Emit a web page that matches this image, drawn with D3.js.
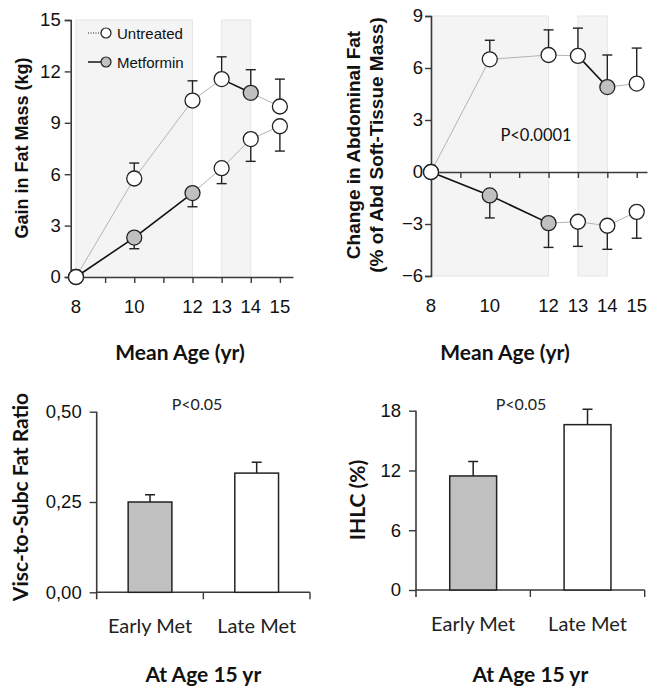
<!DOCTYPE html>
<html>
<head>
<meta charset="utf-8">
<script src="https://cdn.jsdelivr.net/npm/d3@7"></script>
<style>
  body { margin: 0; background: #fff; }
  svg { display: block; }
  .tick text { font-family: "Liberation Sans", Arial, sans-serif; }
</style>
</head>
<body>
<div id="chart"></div>
<script>
// Ages at which the cohorts were measured
var ages = [8, 10, 12, 13, 14, 15];
var tickAges = [8, 10, 12, 13, 14, 15];

// 1 = on metformin at that visit
var lateMet = [0, 0, 0, 0, 1, 0];
var earlyMet = [0, 1, 1, 0, 0, 0];

// Gain in fat mass (kg)
var lateFat = [0, 5.75, 10.3, 11.55, 10.75, 9.95];
var lateFatErr = [0, 0.9, 1.15, 1.3, 1.35, 1.6];
var earlyFat = [0, 2.3, 4.9, 6.35, 8.05, 8.8];
var earlyFatErr = [0, 0.65, 0.8, 0.9, 1.3, 1.45];

// Change in abdominal fat (% of abd soft-tissue mass)
var lateAbd = [0, 6.5, 6.75, 6.7, 4.9, 5.1];
var lateAbdErr = [0, 1.1, 1.45, 1.6, 1.85, 2.05];
var earlyAbd = [0, -1.35, -2.95, -2.87, -3.1, -2.3];
var earlyAbdErr = [0, 1.3, 1.4, 1.42, 1.36, 1.52];

// Bar panels at age 15
var groups = ["Early Met", "Late Met"];
var viscRatio = [0.25, 0.33];
var viscErr = [0.02, 0.03];
var ihlc = [11.45, 16.6];
var ihlcErr = [1.45, 1.55];

var ARIAL = '"Liberation Sans", Arial, sans-serif';
var CALIBRI = 'Lato, "Open Sans", sans-serif';
var axisColor = "#3a3a3a";
var greyFill = "#c0c0c0";
var tickFont = 18.5;

var svg = d3.select("#chart").append("svg")
  .attr("width", 648)
  .attr("height", 688);

function styleAxis(g) {
  g.select(".domain").attr("stroke", axisColor).attr("stroke-width", 1.6);
  g.selectAll(".tick line").attr("stroke", axisColor).attr("stroke-width", 1.4);
  g.selectAll(".tick text").attr("fill", "#111").attr("font-size", tickFont);
}

// draws one of the two line panels
function linePanel(opt) {
  var x = d3.scaleLinear().domain(opt.xDomain).range(opt.xRange);
  var y = d3.scaleLinear().domain(opt.yDomain).range(opt.yRange);
  var g = svg.append("g");

  // shaded treatment windows
  [[8, 12], [13, 14]].forEach(function(w) {
    g.append("rect")
      .attr("x", x(w[0]))
      .attr("y", y(opt.yDomain[1]))
      .attr("width", x(w[1]) - x(w[0]))
      .attr("height", y(opt.yDomain[0]) - y(opt.yDomain[1]))
      .attr("fill", "#f4f4f4")
      .attr("stroke", "#e6e6e6")
      .attr("stroke-width", 1);
  });

  // axes
  var ya = g.append("g")
    .attr("transform", "translate(" + opt.xRange[0] + ",0)")
    .call(d3.axisLeft(y).tickValues(opt.yTicks).tickSize(6).tickPadding(opt.yPad).tickFormat(d3.format("d")));
  styleAxis(ya);

  var xa = g.append("g")
    .attr("transform", "translate(0," + y(0) + ")")
    .call(d3.axisBottom(x).tickValues(d3.range(8, 16)).tickSize(6).tickSizeOuter(0).tickFormat(""));
  styleAxis(xa);

  g.selectAll(".agelab")
    .data(tickAges)
    .enter().append("text")
    .attr("x", function(d) { return x(d); })
    .attr("y", opt.labelY)
    .attr("text-anchor", "middle")
    .attr("font-family", ARIAL)
    .attr("font-size", tickFont)
    .attr("fill", "#111")
    .text(function(d) { return d; });

  // series
  opt.series.forEach(function(s) {
    for (var i = 1; i < ages.length; i++) {
      var met = s.met[i] == 1;
      g.append("line")
        .attr("x1", x(ages[i - 1])).attr("y1", y(s.vals[i - 1]))
        .attr("x2", x(ages[i])).attr("y2", y(s.vals[i]))
        .attr("stroke", met ? "#111" : "#b4b4b4")
        .attr("stroke-width", met ? 1.6 : 1);
    }
    for (var i = 1; i < ages.length; i++) {
      var top = s.vals[i] + s.dir * s.err[i];
      g.append("line")
        .attr("x1", x(ages[i])).attr("x2", x(ages[i]))
        .attr("y1", y(s.vals[i])).attr("y2", y(top))
        .attr("stroke", "#222").attr("stroke-width", 1.4);
      g.append("line")
        .attr("x1", x(ages[i]) - 5).attr("x2", x(ages[i]) + 5)
        .attr("y1", y(top)).attr("y2", y(top))
        .attr("stroke", "#222").attr("stroke-width", 1.4);
    }
  });
  opt.series.forEach(function(s) {
    g.selectAll(null)
      .data(ages)
      .enter().append("circle")
      .attr("cx", function(d) { return x(d); })
      .attr("cy", function(d, i) { return y(s.vals[i]); })
      .attr("r", 7.5)
      .attr("fill", function(d, i) { return s.met[i] == 1 ? greyFill : "#fff"; })
      .attr("stroke", "#222")
      .attr("stroke-width", 1.3);
  });

  // y title
  opt.yTitle.forEach(function(t, k) {
    g.append("text")
      .attr("transform", "translate(" + opt.titleX[k] + "," + opt.titleY + ") rotate(-90)")
      .attr("text-anchor", "middle")
      .attr("font-family", ARIAL)
      .attr("font-weight", "bold")
      .attr("font-size", opt.titleSize)
      .attr("fill", "#111")
      .text(t);
  });

  g.append("text")
    .attr("x", opt.xTitleX)
    .attr("y", 360)
    .attr("text-anchor", "middle")
    .attr("font-family", CALIBRI)
    .attr("font-weight", "bold")
    .attr("font-size", 21)
    .attr("fill", "#111")
    .text("Mean Age (yr)");
  return g;
}

var tl = linePanel({
  xDomain: [7.818, 15.45], xRange: [70.7, 293],
  yDomain: [0, 15], yRange: [277, 20],
  yTicks: [0, 3, 6, 9, 12, 15], yPad: 4,
  labelY: 313,
  series: [
    {vals: lateFat, err: lateFatErr, met: lateMet, dir: 1},
    {vals: earlyFat, err: earlyFatErr, met: earlyMet, dir: -1}
  ],
  yTitle: ["Gain in Fat Mass (kg)"], titleX: [28], titleY: 148, titleSize: 18,
  xTitleX: 180
});

// legend
var legend = [["Untreated", "#fff", "1,1.5"], ["Metformin", greyFill, null]];
legend.forEach(function(l, k) {
  var ly = 33 + k * 29;
  tl.append("line")
    .attr("x1", 88).attr("x2", 102).attr("y1", ly).attr("y2", ly)
    .attr("stroke", "#222").attr("stroke-width", l[2] ? 1 : 1.6)
    .attr("stroke-dasharray", l[2]);
  tl.append("circle")
    .attr("cx", 106).attr("cy", ly).attr("r", 5)
    .attr("fill", l[1]).attr("stroke", "#222").attr("stroke-width", 1.2);
  tl.append("text")
    .attr("x", 117).attr("y", ly + 5.5)
    .attr("font-family", ARIAL)
    .attr("font-size", 15)
    .attr("fill", "#111")
    .text(l[0]);
});

var tr = linePanel({
  xDomain: [8, 15.35], xRange: [431, 647],
  yDomain: [-6, 9], yRange: [276, 16],
  yTicks: [-6, -3, 0, 3, 6, 9], yPad: 2,
  labelY: 312,
  series: [
    {vals: lateAbd, err: lateAbdErr, met: lateMet, dir: 1},
    {vals: earlyAbd, err: earlyAbdErr, met: earlyMet, dir: -1}
  ],
  yTitle: ["Change in Abdominal Fat", "(% of Abd Soft-Tissue Mass)"], titleX: [360, 383], titleY: 145, titleSize: 19,
  xTitleX: 505
});
tr.append("text")
  .attr("x", 536).attr("y", 141)
  .attr("text-anchor", "middle")
  .attr("font-family", CALIBRI)
  .attr("font-size", 16.5)
  .attr("fill", "#111")
  .text("P<0.0001");

// bar panels
function barPanel(opt) {
  var x = d3.scaleBand().domain(groups).range(opt.xRange).paddingInner(0.59).paddingOuter(0.295);
  var xb = d3.scaleBand().domain(groups).range(opt.xRange);
  var y = d3.scaleLinear().domain(opt.yDomain).range(opt.yRange);
  var g = svg.append("g");

  var ya = g.append("g")
    .attr("transform", "translate(" + opt.xRange[0] + ",0)")
    .call(d3.axisLeft(y).tickValues(opt.yTicks).tickSize(7).tickPadding(8).tickFormat(opt.fmt));
  styleAxis(ya);
  ya.select(".domain").attr("d", "M0," + y.range()[1] + "V" + (y.range()[0] + 7));

  var xa = g.append("g")
    .attr("transform", "translate(0," + y(0) + ")");
  xa.append("line")
    .attr("x1", opt.xRange[0]).attr("x2", opt.xRange[1])
    .attr("stroke", axisColor).attr("stroke-width", 1.6);
  xa.selectAll(null)
    .data(groups)
    .enter().append("line")
    .attr("x1", function(d) { return xb(d) + xb.bandwidth(); })
    .attr("x2", function(d) { return xb(d) + xb.bandwidth(); })
    .attr("y1", 0).attr("y2", 7)
    .attr("stroke", axisColor).attr("stroke-width", 1.4);

  g.selectAll(null)
    .data(groups)
    .enter().append("text")
    .attr("x", function(d) { return xb(d) + xb.bandwidth() / 2; })
    .attr("y", y(0) + 41)
    .attr("text-anchor", "middle")
    .attr("font-family", CALIBRI)
    .attr("font-size", 20)
    .attr("fill", "#222")
    .text(function(d) { return d; });

  // error bars then bars
  g.selectAll(null)
    .data(groups)
    .enter().append("path")
    .attr("d", function(d, i) {
      var cx = x(d) + x.bandwidth() / 2;
      var top = y(opt.vals[i] + opt.err[i]);
      return "M" + cx + "," + y(opt.vals[i]) + "V" + top + "M" + (cx - 5) + "," + top + "H" + (cx + 5);
    })
    .attr("stroke", "#222").attr("stroke-width", 1.5).attr("fill", "none");

  g.selectAll(null)
    .data(groups)
    .enter().append("rect")
    .attr("x", function(d) { return x(d); })
    .attr("y", function(d, i) { return y(opt.vals[i]); })
    .attr("width", x.bandwidth())
    .attr("height", function(d, i) { return y(0) - y(opt.vals[i]); })
    .attr("fill", function(d, i) { return i == 0 ? greyFill : "#fff"; })
    .attr("stroke", "#222")
    .attr("stroke-width", 1.5);

  g.append("text")
    .attr("x", opt.pX).attr("y", 410)
    .attr("text-anchor", "middle")
    .attr("font-family", CALIBRI)
    .attr("font-size", 16)
    .attr("fill", "#222")
    .text("P<0.05");

  g.append("text")
    .attr("transform", "translate(" + opt.titleX + "," + opt.titleY + ") rotate(-90)")
    .attr("text-anchor", "middle")
    .attr("font-family", CALIBRI)
    .attr("font-weight", "bold")
    .attr("font-size", 21)
    .attr("fill", "#111")
    .text(opt.yTitle);

  g.append("text")
    .attr("x", (opt.xRange[0] + opt.xRange[1]) / 2)
    .attr("y", 682)
    .attr("text-anchor", "middle")
    .attr("font-family", CALIBRI)
    .attr("font-weight", "bold")
    .attr("font-size", 21)
    .attr("fill", "#111")
    .text("At Age 15 yr");
}

barPanel({
  xRange: [96.7, 310], yDomain: [0, 0.5], yRange: [592.3, 411.7],
  yTicks: [0, 0.25, 0.5], fmt: function(d) { return d3.format(".2f")(d).replace(".", ","); },
  vals: viscRatio, err: viscErr, pX: 197,
  yTitle: "Visc-to-Subc Fat Ratio", titleX: 28, titleY: 497
});

barPanel({
  xRange: [416, 644.7], yDomain: [0, 18], yRange: [590, 410.7],
  yTicks: [0, 6, 12, 18], fmt: d3.format("d"),
  vals: ihlc, err: ihlcErr, pX: 521,
  yTitle: "IHLC (%)", titleX: 365, titleY: 500
});
</script>
</body>
</html>
